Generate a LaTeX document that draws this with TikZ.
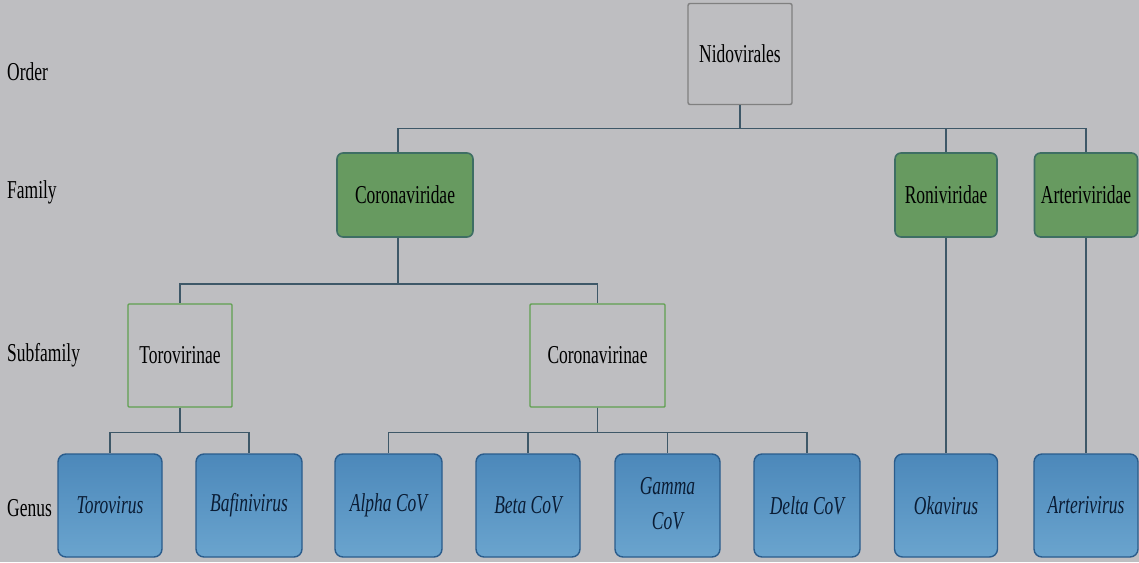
\documentclass[tikz,border=0pt]{standalone}
\usepackage{fontspec}
\setmainfont{Liberation Serif}
\usepackage{graphicx}
\definecolor{bg}{RGB}{190,190,193}
\definecolor{greenfill}{RGB}{103,154,96}
\definecolor{greenedge}{RGB}{62,110,100}
\definecolor{subedge}{RGB}{96,160,80}
\definecolor{bluetop}{RGB}{76,136,186}
\definecolor{bluebot}{RGB}{106,164,206}
\definecolor{blueedge}{RGB}{42,92,140}
\definecolor{greyedge}{RGB}{128,128,128}
\definecolor{linecol}{RGB}{62,88,104}
\definecolor{genustext}{RGB}{10,28,52}
\newcommand{\tx}[1]{\scalebox{0.76}[1.12]{\fontsize{23}{30}\selectfont #1}}
\tikzset{
  box/.style={rectangle, inner sep=0pt, minimum height=101pt, align=center},
  orderbox/.style={box, draw=greyedge, line width=1.4pt, fill=bg, minimum width=104pt, rounded corners=2pt},
  familybox/.style={box, draw=greenedge, line width=1.6pt, fill=greenfill, minimum height=84pt, rounded corners=6pt},
  subbox/.style={box, draw=subedge, line width=1.4pt, fill=bg, minimum height=103pt, rounded corners=1pt},
  genusbox/.style={box, draw=blueedge, line width=1.4pt, top color=bluetop, bottom color=bluebot, minimum height=103pt, minimum width=105pt, rounded corners=8pt, text=genustext},
  conn/.style={draw=linecol, line width=1.4pt},
  rank/.style={anchor=west, inner sep=0pt}
}
\begin{document}
\begin{tikzpicture}[x=1pt,y=-1pt]
\fill[bg] (0,0) rectangle (1139,562);
\useasboundingbox (0,0) rectangle (1139,562);

% rank labels
\node[rank] (lorder) at (7,72) {\tx{Order}};
\node[rank] (lfamily) at (7,192) {\tx{Family}};
\node[rank] (lsub) at (7,355) {\tx{Subfamily}};
\node[rank] (lgenus) at (7,508) {\tx{Genus}};

% order
\node[orderbox] (nid) at (740,54) {\tx{Nidovirales}};

% families
\node[familybox, minimum width=136pt] (cvd) at (405,195) {\tx{Coronaviridae}};
\node[familybox, minimum width=102pt] (ron) at (946,195) {\tx{Roniviridae}};
\node[familybox, minimum width=103pt] (art) at (1086,195) {\tx{Arteriviridae}};

% subfamilies
\node[subbox, minimum width=104pt] (tor) at (180,355.5) {\tx{Torovirinae}};
\node[subbox, minimum width=135pt] (cvn) at (597.5,355.5) {\tx{Coronavirinae}};

% genera
\node[genusbox, minimum width=104pt] (torv) at (110,505.5) {\tx{\itshape Torovirus}};
\node[genusbox, minimum width=106pt] (baf) at (249,505.5) {\tx{\itshape Bafinivirus}};
\node[genusbox, minimum width=107pt] (alpha) at (388.5,505.5) {\tx{\itshape Alpha CoV}};
\node[genusbox, minimum width=104pt] (beta) at (528,505.5) {\tx{\itshape Beta CoV}};
\node[genusbox, minimum width=105pt] (gamma) at (667.5,505.5) {\tx{\itshape\begin{tabular}{@{}c@{}}Gamma\\[1pt]CoV\end{tabular}}};
\node[genusbox, minimum width=106pt] (delta) at (807,505.5) {\tx{\itshape Delta CoV}};
\node[genusbox, minimum width=103pt] (oka) at (946,505.5) {\tx{\itshape Okavirus}};
\node[genusbox, minimum width=104pt] (artv) at (1086,505.5) {\tx{\itshape Arterivirus}};

% connectors: order -> families
\draw[conn] (nid.south) -- ++(0,23) -| ([xshift=-7pt]cvd.north);
\draw[conn] (nid.south) -- ++(0,23) -| (ron.north);
\draw[conn] (nid.south) -- ++(0,23) -| (art.north);

% Coronaviridae -> subfamilies
\draw[conn] ([xshift=-7pt]cvd.south) -- ++(0,46) -| (tor.north);
\draw[conn] ([xshift=-7pt]cvd.south) -- ++(0,46) -| (cvn.north);

% Torovirinae -> genera
\draw[conn] (tor.south) -- ++(0,24.5) -| (torv.north);
\draw[conn] (tor.south) -- ++(0,24.5) -| (baf.north);

% Coronavirinae -> genera
\draw[conn] (cvn.south) -- ++(0,24.5) -| (alpha.north);
\draw[conn] (cvn.south) -- ++(0,24.5) -| (beta.north);
\draw[conn] (cvn.south) -- ++(0,24.5) -| (gamma.north);
\draw[conn] (cvn.south) -- ++(0,24.5) -| (delta.north);

% single chains
\draw[conn] (ron.south) -- (oka.north);
\draw[conn] (art.south) -- (artv.north);
\end{tikzpicture}
\end{document}
